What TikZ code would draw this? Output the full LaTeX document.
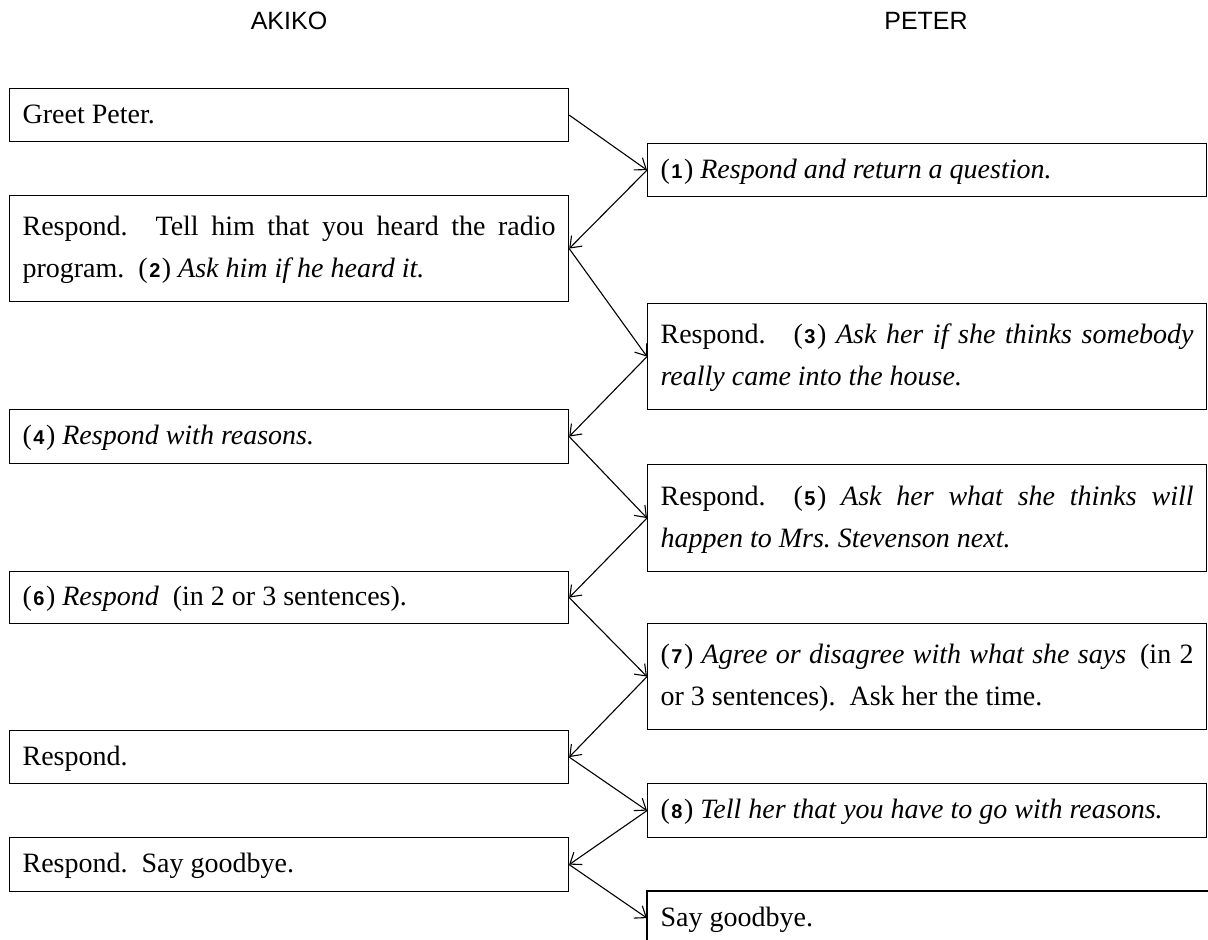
\documentclass[tikz,border=0pt]{standalone}
\usepackage{fontspec}
\setmainfont{Liberation Serif}
\setsansfont{Liberation Sans}
\usetikzlibrary{arrows.meta}
\newcommand{\plab}[1]{{\upshape(\kern1.5pt{\sffamily\bfseries\fontsize{20}{20}\selectfont #1}\kern1.5pt)}}
\newcommand{\bstrut}{\rule{0pt}{22pt}}
\newcommand{\estrut}{\rule[-6pt]{0pt}{6pt}}
\begin{document}
\begin{tikzpicture}[x=1pt,y=-1pt,
  box/.style={draw, line width=1.2pt, rectangle, anchor=north west,
    inner xsep=13pt, inner ysep=0pt, text width=533pt, align=justify,
    minimum height=#1, font=\fontsize{28}{42}\selectfont},
  conn/.style={-{Straight Barb[length=10pt,width=15pt]}, line width=1.1pt},
  head/.style={font=\sffamily\fontsize{25}{25}\selectfont, inner sep=0pt}]
\useasboundingbox (0,0) rectangle (1208,940);

\node[head] (hA) at (289,21) {AKIKO};
\node[head] (hP) at (926,21) {PETER};

\node[box=53pt] (a1) at (9,88) {\bstrut Greet Peter.\estrut};
\node[box=53pt] (p1) at (647,143) {\bstrut\plab{1} \textit{Respond and return a question.}\estrut};
\node[box=106pt] (a2) at (9,195) {\bstrut Respond.\quad Tell him that you heard the radio\linebreak program.\enspace\plab{2} \textit{Ask him if he heard it.}\estrut};
\node[box=106pt] (p2) at (647,303) {\bstrut Respond.\quad\plab{3} \textit{Ask her if she thinks somebody\linebreak really came into the house.}\estrut};
\node[box=54pt] (a3) at (9,409) {\bstrut\plab{4} \textit{Respond with reasons.}\estrut};
\node[box=107pt] (p3) at (647,464) {\bstrut Respond.\quad\plab{5} \textit{Ask her what she thinks will\linebreak happen to Mrs.\ Stevenson next.}\estrut};
\node[box=52pt] (a4) at (9,571) {\bstrut\plab{6} \textit{Respond}\enspace(in 2 or 3 sentences).\estrut};
\node[box=106pt] (p4) at (647,623) {\bstrut\plab{7} \textit{Agree or disagree with what she says}\enspace(in 2\linebreak or 3 sentences).\enspace Ask her the time.\estrut};
\node[box=53pt] (a5) at (9,730) {\bstrut Respond.\estrut};
\node[box=54pt] (p5) at (647,783) {\bstrut\plab{8} \textit{Tell her that you have to go with reasons.}\estrut};
\node[box=54pt] (a6) at (9,837) {\bstrut Respond.\enspace Say goodbye.\estrut};
\node[box=53pt, draw=none] (p6) at (647,891) {\bstrut Say goodbye.\estrut};
\draw[line width=1.2pt] (p6.north west) ++(561,0) -- (p6.north west) -- (p6.south west) -- ++(0,10);

\draw[conn] (a1.east) -- (p1.west);
\draw[conn] (p1.west) -- (a2.east);
\draw[conn] (a2.east) -- (p2.west);
\draw[conn] (p2.west) -- (a3.east);
\draw[conn] (a3.east) -- (p3.west);
\draw[conn] (p3.west) -- (a4.east);
\draw[conn] (a4.east) -- (p4.west);
\draw[conn] (p4.west) -- (a5.east);
\draw[conn] (a5.east) -- (p5.west);
\draw[conn] (p5.west) -- (a6.east);
\draw[conn] (a6.east) -- (p6.west);
\end{tikzpicture}
\end{document}
